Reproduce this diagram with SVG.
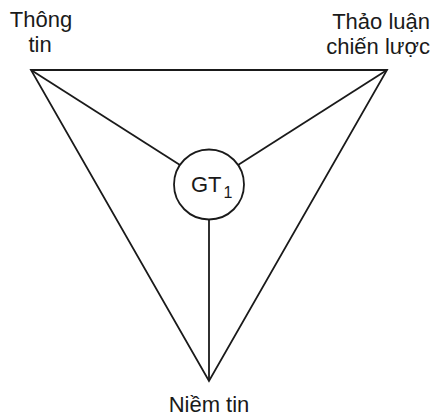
<svg xmlns="http://www.w3.org/2000/svg" width="433" height="417" viewBox="0 0 433 417">
<style>
.t{font-family:"Liberation Sans",Arial,sans-serif;font-size:22px;fill:#1a1a1a}
.l{stroke:#1a1a1a;stroke-width:1.8;fill:none}
</style>
<rect width="433" height="417" fill="#fff"/>
<g id="connectors">
<polygon class="l" points="31,70 387,70 209,381" stroke-linejoin="miter"/>
<line class="l" x1="31" y1="70" x2="180" y2="165"/>
<line class="l" x1="387" y1="70" x2="238" y2="165"/>
<line class="l" x1="209" y1="381" x2="209" y2="220"/>
</g>
<g id="center">
<circle class="l" cx="209" cy="184.5" r="35"/>
<text class="t" x="191" y="192">GT<tspan font-size="16" dx="2" dy="6">1</tspan></text>
</g>
<g id="thongtin">
<text class="t" x="41" y="27" text-anchor="middle">Thông</text>
<text class="t" x="40" y="52" text-anchor="middle">tin</text>
</g>
<g id="thaoluan">
<text class="t" x="430" y="29" text-anchor="end">Thảo luận</text>
<text class="t" x="430" y="54" text-anchor="end">chiến lược</text>
</g>
<g id="niemtin">
<text class="t" x="209" y="412" text-anchor="middle">Niềm tin</text>
</g>
</svg>
